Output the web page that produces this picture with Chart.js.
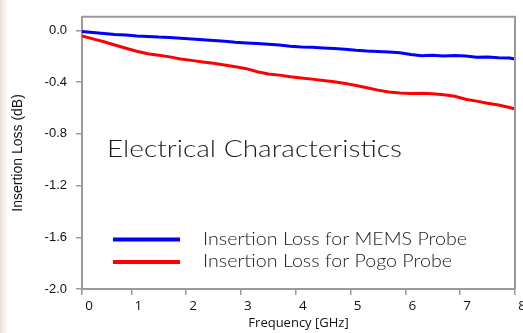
<!DOCTYPE html>
<html>
<head>
<meta charset="utf-8">
<script src="https://cdn.jsdelivr.net/npm/chart.js@4"></script>
<style>
  html, body { margin: 0; padding: 0; }
  body {
    width: 523px; height: 333px; overflow: hidden;
    background: linear-gradient(to right, #e6e0d2 0px, #f4f1ea 4px, #ffffff 8px);
  }
</style>
</head>
<body>
<canvas id="lossChart" width="523" height="333"></canvas>
<script>
// frequency points (GHz)
const freq = [0.1, 0.3, 0.5, 0.7, 0.9, 1.1, 1.3, 1.5, 1.7, 1.9,
              2.1, 2.3, 2.5, 2.7, 2.9, 3.1, 3.3, 3.5, 3.7, 3.9,
              4.1, 4.3, 4.5, 4.7, 4.9, 5.1, 5.3, 5.5, 5.7, 5.9,
              6.1, 6.3, 6.5, 6.7, 6.9, 7.1, 7.3, 7.5, 7.7, 7.9, 8.0];

const memsLoss = [-0.008, -0.016, -0.024, -0.031, -0.036, -0.043, -0.047, -0.052, -0.055, -0.061,
                  -0.066, -0.073, -0.079, -0.084, -0.092, -0.097, -0.101, -0.108, -0.114, -0.123,
                  -0.128, -0.131, -0.136, -0.141, -0.146, -0.154, -0.160, -0.164, -0.168, -0.173,
                  -0.186, -0.196, -0.192, -0.199, -0.194, -0.198, -0.208, -0.205, -0.211, -0.214, -0.222];

const pogoLoss = [-0.043, -0.066, -0.088, -0.113, -0.138, -0.161, -0.180, -0.192, -0.205, -0.221,
                  -0.232, -0.244, -0.255, -0.268, -0.282, -0.296, -0.320, -0.338, -0.346, -0.358,
                  -0.368, -0.377, -0.387, -0.397, -0.410, -0.426, -0.443, -0.462, -0.476, -0.485,
                  -0.488, -0.487, -0.490, -0.497, -0.510, -0.532, -0.547, -0.563, -0.577, -0.596, -0.609];

const seriesLabels = ['Insertion Loss for MEMS Probe', 'Insertion Loss for Pogo Probe'];
const seriesColors = ['#0000ff', '#ff0000'];

const xTicks = [0.1, 1, 2, 3, 4, 5, 6, 7, 8];
const xTickLabels = ['0', '1', '2', '3', '4', '5', '6', '7', '8'];
const yTicks = [-2.0, -1.6, -1.2, -0.8, -0.4, 0.0];

const chartTitle = 'Electrical Characteristics';
const axisGray = '#9a9a9a';

function toPoints(ys) {
    return freq.map((f, i) => ({ x: f, y: ys[i] }));
}

// draw text squeezed/stretched to a given width
function fitText(ctx, text, x, y, width) {
    const w = ctx.measureText(text).width;
    ctx.save();
    ctx.translate(x, y);
    ctx.scale(width / w, 1);
    ctx.fillText(text, 0, 0);
    ctx.restore();
}

const overlayText = {
    id: 'overlayText',
    afterDatasetsDraw(chart) {
        const { ctx, chartArea: a } = chart;
        ctx.save();

        // frame on top and right
        ctx.strokeStyle = axisGray;
        ctx.lineWidth = 2;
        ctx.beginPath();
        ctx.moveTo(a.left, a.top);
        ctx.lineTo(a.right, a.top);
        ctx.lineTo(a.right, a.bottom);
        ctx.stroke();

        ctx.fillStyle = '#1a1a1a';
        ctx.textBaseline = 'alphabetic';
        ctx.font = '300 22.5px Lato';
        fitText(ctx, chartTitle, a.left + 25, a.top + 140, 295);

        // legend
        ctx.font = '300 17.5px Lato';
        const scaleX = 264 / ctx.measureText(chart.data.datasets[0].label).width;
        chart.data.datasets.forEach((ds, i) => {
            const y = a.top + 222.7 + i * 22.6;
            ctx.strokeStyle = ds.borderColor;
            ctx.lineWidth = 4;
            ctx.beginPath();
            ctx.moveTo(a.left + 31, y);
            ctx.lineTo(a.left + 98, y);
            ctx.stroke();
            const w = ctx.measureText(ds.label).width * scaleX;
            fitText(ctx, ds.label, a.left + 121, y + 5.3, w);
        });
        ctx.restore();
    }
};

const ctx = document.getElementById('lossChart').getContext('2d');

const config = {
    type: 'line',
    data: {
        datasets: [
            {
                label: seriesLabels[0],
                data: toPoints(memsLoss),
                borderColor: seriesColors[0],
                borderWidth: 3,
                pointRadius: 0,
                fill: false
            },
            {
                label: seriesLabels[1],
                data: toPoints(pogoLoss),
                borderColor: seriesColors[1],
                borderWidth: 3,
                pointRadius: 0,
                fill: false
            }
        ]
    },
    options: {
        responsive: false,
        animation: false,
        layout: { padding: { top: 8, right: 8, left: 0, bottom: 0 } },
        plugins: {
            legend: { display: false },
            tooltip: { enabled: false }
        },
        scales: {
            x: {
                type: 'linear',
                min: 0.1,
                max: 8,
                afterBuildTicks: (scale) => { scale.ticks = xTicks.map(v => ({ value: v })); },
                afterFit: (scale) => {
                    scale.height = 44;
                    scale.paddingLeft = 0;
                    scale.paddingRight = 0;
                },
                grid: { drawOnChartArea: false, drawTicks: true, tickLength: 6, color: axisGray, lineWidth: 1.5 },
                border: { color: axisGray, width: 2 },
                ticks: {
                    autoSkip: false,
                    maxRotation: 0,
                    padding: 3,
                    labelOffset: 7,
                    color: '#111',
                    font: { family: 'Open Sans', size: 13.5 },
                    callback: (v, i) => xTickLabels[i]
                },
                title: {
                    display: true,
                    text: 'Frequency [GHz]',
                    color: '#111',
                    font: { family: 'Open Sans', size: 13 },
                    padding: { top: 0, bottom: 2 }
                }
            },
            y: {
                min: -2.0,
                max: 0.105,
                afterBuildTicks: (scale) => { scale.ticks = yTicks.map(v => ({ value: v })); },
                afterFit: (scale) => { scale.width = 82; },
                grid: { drawOnChartArea: false, drawTicks: true, tickLength: 6, color: axisGray, lineWidth: 1.5 },
                border: { color: axisGray, width: 2 },
                ticks: {
                    padding: 9,
                    color: '#111',
                    font: { family: 'Liberation Sans', size: 13 },
                    callback: (v) => v.toFixed(1)
                },
                title: {
                    display: true,
                    text: 'Insertion Loss (dB)',
                    color: '#111',
                    font: { family: 'Liberation Sans', size: 14 },
                    padding: { top: 10, bottom: 0 }
                }
            }
        }
    },
    plugins: [overlayText]
};

const lossChart = new Chart(ctx, config);
</script>
</body>
</html>
